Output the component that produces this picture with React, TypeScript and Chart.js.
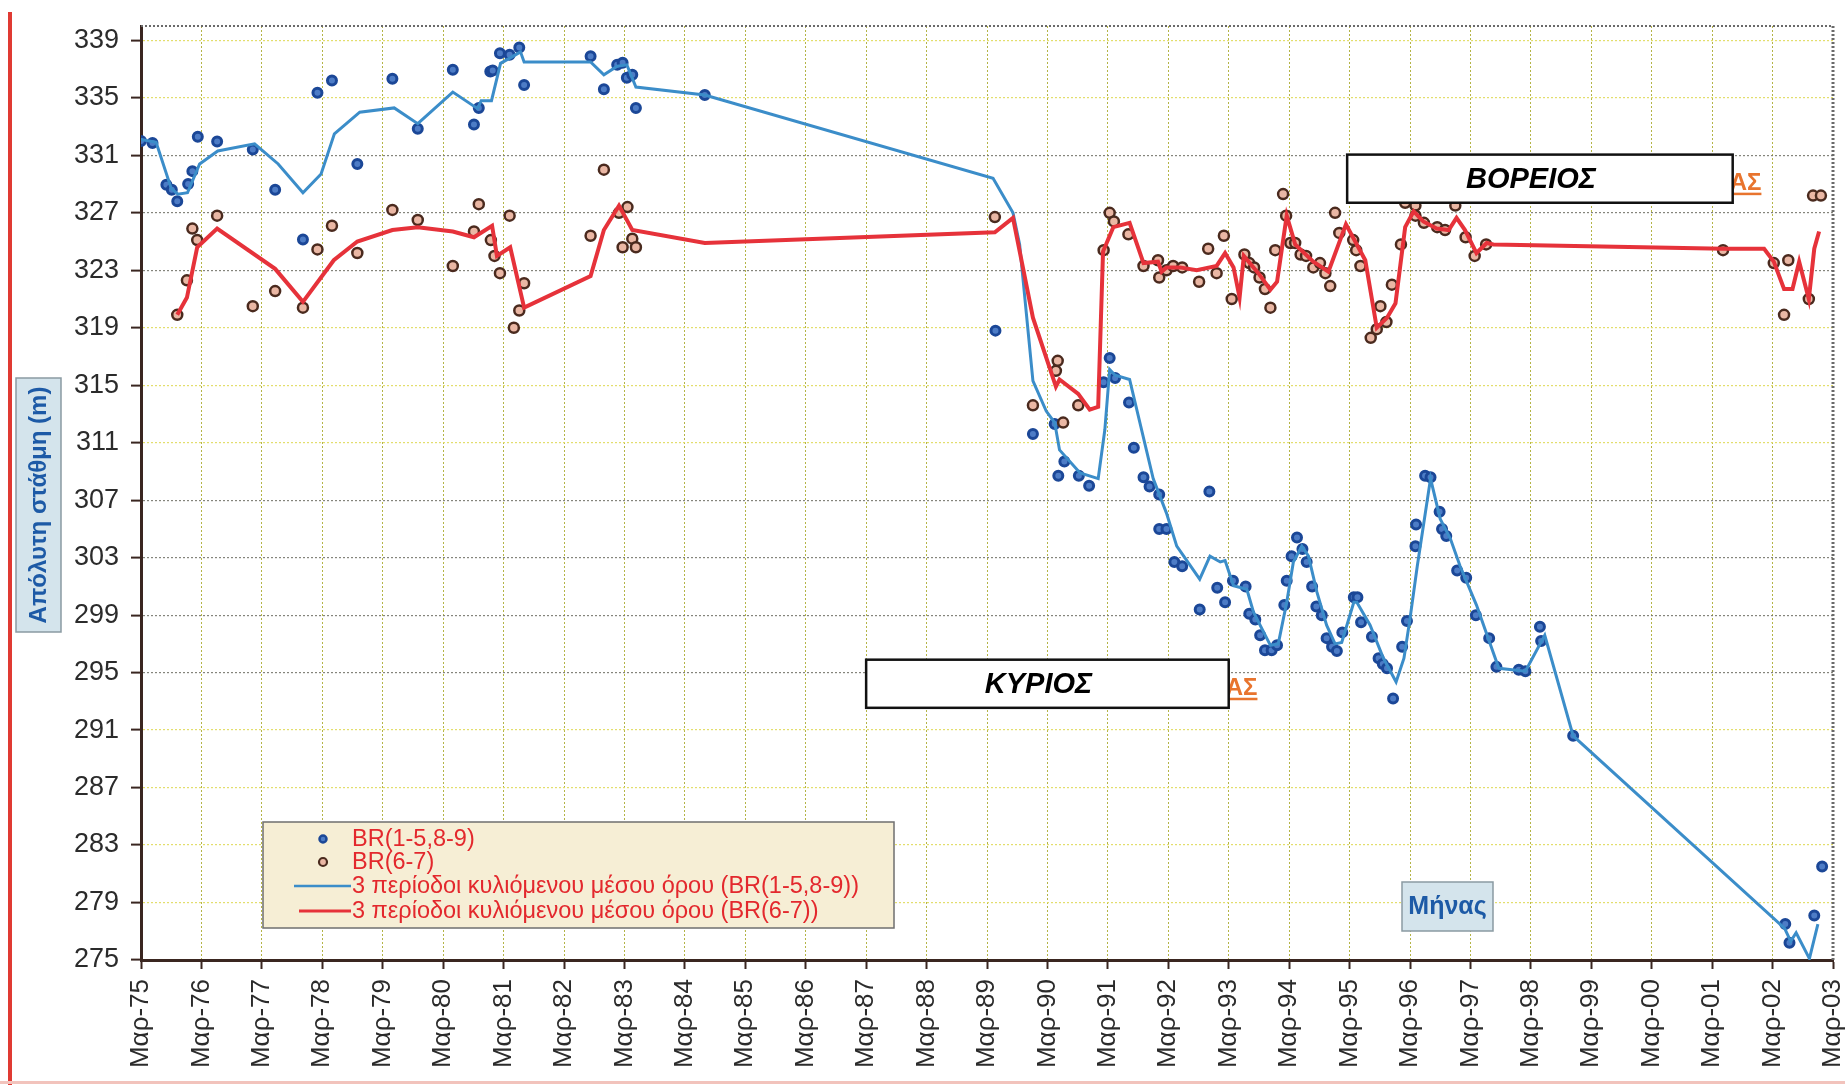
import React, { useEffect, useRef } from "react";
import { Chart, registerables } from "chart.js";

Chart.register(...registerables);

// x values are years counted from March: 75 = Μαρ-75 ... 103 = Μαρ-03
const monthName = "Μαρ";
const yearFirst = 75;
const yearLast = 103;
const levelMin = 275;
const levelMax = 340;
const levelStep = 4;
const levelTicks = [275, 279, 283, 287, 291, 295, 299, 303, 307, 311, 315, 319, 323, 327, 331, 335, 339];

// BR(1-5,8-9) measured levels
const mainWellsYear = [
  75.0, 75.19, 75.42, 75.51, 75.6, 75.78, 75.85, 75.94, 76.26, 76.85, 77.22, 77.68, 77.92, 78.16, 78.58,
  79.16, 79.58, 80.16, 80.51, 80.59, 80.78, 80.82, 80.94, 81.1, 81.26, 81.34, 82.44, 82.66, 82.88, 82.97,
  83.04, 83.13, 83.19, 84.33, 89.14, 89.76, 90.12, 90.18, 90.28, 90.52, 90.69, 90.93, 91.03, 91.12, 91.35,
  91.43, 91.59, 91.69, 91.85, 91.85, 91.97, 92.1, 92.23, 92.52, 92.68, 92.81, 92.94, 93.07, 93.28, 93.34,
  93.44, 93.52, 93.6, 93.71, 93.8, 93.92, 93.96, 94.04, 94.13, 94.22, 94.29, 94.38, 94.45, 94.54, 94.62,
  94.71, 94.79, 94.88, 95.07, 95.13, 95.19, 95.37, 95.48, 95.55, 95.62, 95.72, 95.87, 95.95, 96.09, 96.1,
  96.25, 96.34, 96.49, 96.53, 96.6, 96.78, 96.93, 97.09, 97.31, 97.43, 97.8, 97.91, 98.15, 98.17, 98.7,
  102.21, 102.28, 102.69, 102.82,
];
const mainWellsLevel = [
  332.0, 331.85, 328.95, 328.6, 327.8, 329.0, 329.9, 332.3, 331.97, 331.4, 328.6, 325.15, 335.36, 336.2, 330.4,
  336.33, 332.85, 336.96, 333.15, 334.3, 336.84, 336.9, 338.1, 338.0, 338.5, 335.9, 337.9, 335.6, 337.3, 337.45,
  336.4, 336.6, 334.3, 335.2, 318.8, 311.6, 312.3, 308.7, 309.7, 308.7, 308.0, 315.2, 316.9, 315.5, 313.8,
  310.65, 308.6, 307.95, 307.4, 305.0, 305.0, 302.7, 302.4, 299.4, 307.6, 300.9, 299.9, 301.4, 301.0, 299.1,
  298.7, 297.6, 296.55, 296.55, 296.9, 299.7, 301.4, 303.1, 304.4, 303.6, 302.7, 301.0, 299.6, 299.0, 297.4,
  296.8, 296.5, 297.8, 300.25, 300.25, 298.5, 297.5, 296.0, 295.6, 295.3, 293.2, 296.8, 298.6, 303.8, 305.3,
  308.7, 308.6, 306.2, 305.0, 304.5, 302.1, 301.6, 299.0, 297.4, 295.4, 295.2, 295.1, 298.2, 297.2, 290.6,
  277.5, 276.2, 278.1, 281.5,
];

// 3-period rolling mean of BR(1-5,8-9)
const mainAvgYear = [
  75.0, 75.25, 75.5, 75.61, 75.77, 75.97, 76.27, 76.88, 77.27, 77.68, 77.98, 78.2, 78.62, 79.19, 79.58,
  80.16, 80.57, 80.63, 80.8, 80.95, 81.16, 81.28, 81.34, 82.44, 82.66, 82.88, 83.04, 83.19, 84.33, 89.1,
  89.43, 89.54, 89.76, 89.98, 90.12, 90.2, 90.54, 90.84, 90.95, 91.03, 91.12, 91.36, 91.75, 91.97, 92.14,
  92.52, 92.69, 92.86, 92.94, 93.08, 93.3, 93.41, 93.69, 93.82, 93.96, 94.07, 94.21, 94.32, 94.46, 94.62,
  94.76, 94.87, 95.07, 95.12, 95.34, 95.56, 95.77, 95.9, 96.0, 96.12, 96.34, 96.5, 96.67, 96.83, 97.1,
  97.31, 97.47, 97.91, 98.23, 98.7, 102.2, 102.3, 102.39, 102.61, 102.75,
];
const mainAvgLevel = [
  332.1, 331.9, 328.7, 328.3, 328.4, 330.4, 331.3, 331.8, 330.4, 328.4, 329.7, 332.5, 334.0, 334.3, 333.2,
  335.4, 334.25, 334.8, 334.8, 337.4, 337.9, 338.2, 337.5, 337.5, 336.6, 337.2, 337.3, 335.75, 335.2, 329.4,
  327.0, 324.8, 315.3, 313.2, 312.4, 310.5, 308.9, 308.5, 311.9, 316.1, 315.7, 315.4, 308.5, 306.1, 303.8,
  301.5, 303.1, 302.7, 302.8, 301.05, 300.8, 299.2, 296.9, 297.0, 299.9, 302.7, 303.8, 303.1, 300.6, 298.3,
  297.0, 297.1, 299.9, 299.9, 298.3, 296.0, 294.35, 296.0, 298.75, 302.4, 308.5, 305.7, 304.3, 302.4, 299.7,
  297.2, 295.3, 295.1, 297.6, 290.6, 277.2, 276.3, 276.9, 275.1, 277.5,
];

// BR(6-7) measured levels
const northWellsYear = [
  75.6, 75.76, 75.85, 75.93, 76.26, 76.85, 77.22, 77.68, 77.92, 78.16, 78.58, 79.16, 79.58, 80.16, 80.51,
  80.59, 80.79, 80.85, 80.94, 81.1, 81.17, 81.26, 81.34, 82.44, 82.66, 82.91, 83.05, 82.97, 83.13, 83.19,
  89.13, 89.76, 90.14, 90.17, 90.26, 90.51, 90.93, 91.03, 91.1, 91.34, 91.59, 91.83, 91.85, 91.97, 92.08,
  92.23, 92.51, 92.66, 92.8, 92.92, 93.05, 93.26, 93.34, 93.42, 93.51, 93.6, 93.69, 93.77, 93.9, 93.95,
  94.02, 94.1, 94.19, 94.28, 94.4, 94.51, 94.6, 94.68, 94.76, 94.83, 95.06, 95.11, 95.18, 95.35, 95.45,
  95.51, 95.61, 95.7, 95.85, 95.92, 96.09, 96.09, 96.23, 96.45, 96.58, 96.75, 96.92, 97.07, 97.26, 101.18,
  102.02, 102.19, 102.26, 102.6, 102.67, 102.8,
];
const northWellsLevel = [
  319.9, 322.3, 325.9, 325.1, 326.8, 320.5, 321.55, 320.4, 324.45, 326.1, 324.2, 327.2, 326.5, 323.3, 325.7,
  327.6, 325.1, 324.0, 322.8, 326.8, 319.0, 320.2, 322.1, 325.4, 330.0, 327.0, 327.4, 324.6, 325.2, 324.6,
  326.7, 313.6, 316.0, 316.7, 312.4, 313.6, 324.4, 327.0, 326.4, 325.5, 323.3, 323.7, 322.5, 323.0, 323.3,
  323.2, 322.2, 324.5, 322.8, 325.4, 321.0, 324.1, 323.5, 323.2, 322.5, 321.7, 320.4, 324.4, 328.3, 326.8,
  324.9, 324.9, 324.1, 324.0, 323.2, 323.5, 322.8, 321.9, 327.0, 325.6, 325.1, 324.4, 323.3, 318.3, 318.9,
  320.5, 319.4, 322.0, 324.8, 327.7, 327.5, 326.8, 326.3, 326.0, 325.8, 327.5, 325.3, 324.0, 324.8, 324.4,
  323.5, 319.9, 323.7, 321.0, 328.2, 328.2,
];

// 3-period rolling mean of BR(6-7)
const northAvgYear = [
  75.6, 75.76, 75.93, 76.26, 77.22, 77.68, 78.19, 78.58, 79.16, 79.58, 80.16, 80.51, 80.81, 80.89, 81.11,
  81.34, 82.44, 82.66, 82.91, 83.13, 84.33, 89.13, 89.43, 89.76, 90.14, 90.2, 90.51, 90.7, 90.84, 90.92,
  91.09, 91.36, 91.59, 91.83, 91.89, 91.97, 92.19, 92.47, 92.8, 92.94, 93.08, 93.18, 93.25, 93.49, 93.69,
  93.8, 93.96, 94.1, 94.4, 94.65, 94.94, 95.26, 95.45, 95.62, 95.76, 95.92, 96.06, 96.22, 96.44, 96.64,
  96.77, 96.91, 97.1, 97.27, 97.38, 101.19, 101.86, 102.02, 102.19, 102.33, 102.44, 102.6, 102.69, 102.77,
];
const northAvgLevel = [
  319.9, 321.1, 324.6, 325.9, 323.1, 320.8, 323.7, 325.0, 325.8, 326.0, 325.7, 325.3, 326.1, 324.0, 324.6,
  320.4, 322.6, 325.8, 327.5, 325.8, 324.9, 325.65, 326.65, 319.7, 314.9, 315.4, 314.4, 313.3, 313.5, 324.3,
  326.0, 326.3, 323.5, 323.6, 322.9, 323.2, 323.2, 323.0, 323.3, 324.2, 323.2, 321.1, 324.0, 322.8, 321.65,
  322.2, 326.8, 324.8, 323.6, 322.9, 326.2, 323.7, 319.0, 319.7, 320.7, 326.0, 327.1, 326.4, 325.9, 325.8,
  326.65, 325.8, 324.2, 324.9, 324.8, 324.5, 324.5, 323.6, 321.7, 321.7, 323.6, 321.0, 324.5, 325.7,
];

const seriesLabels = [
  "BR(1-5,8-9)",
  "BR(6-7)",
  "3 περίοδοι κυλιόμενου μέσου όρου (BR(1-5,8-9))",
  "3 περίοδοι κυλιόμενου μέσου όρου (BR(6-7))",
];
const yAxisTitle = "Απόλυτη στάθμη (m)";
const xAxisTitle = "Μήνας";
const regionMain = "ΚΥΡΙΟΣ";
const regionNorth = "ΒΟΡΕΙΟΣ";
const regionSuffix = "ΑΣ";

const FONT = "'Liberation Sans', Arial, Helvetica, sans-serif";
const BLUE_DOT = "#1b4797";
const BLUE_DOT_FILL = "#4d7cc6";
const BROWN_RING = "#4a2a1e";
const BROWN_FILL = "#eab7a4";
const BLUE_LINE = "#3b8dc9";
const RED_LINE = "#e6323a";
const AXIS = "#3a2620";
const LEGEND_TEXT = "#e3282d";
const ORANGE = "#e8742e";

const toPoints = (xs: number[], ys: number[]) => xs.map((x, i) => ({ x, y: ys[i] }));

const yearLabel = (v: number) => `${monthName}-${String(v % 100).padStart(2, "0")}`;

const darkGridLevels = [331, 327, 323, 307, 303, 299, 295];

function drawRing(ctx: CanvasRenderingContext2D, x: number, y: number, r: number, stroke: string, fill: string, w: number) {
  ctx.beginPath();
  ctx.arc(x, y, r, 0, Math.PI * 2);
  ctx.fillStyle = fill;
  ctx.fill();
  ctx.lineWidth = w;
  ctx.strokeStyle = stroke;
  ctx.stroke();
}

const decorations = {
  id: "decorations",
  afterDatasetsDraw(chart: any) {
    const { ctx, chartArea: a, scales } = chart;
    const xs = scales.x;
    const ys = scales.y;
    ctx.save();

    // dotted top and right frame of the plot area
    ctx.setLineDash([2, 2]);
    ctx.strokeStyle = "#6a6a6a";
    ctx.lineWidth = 2;
    ctx.beginPath();
    ctx.moveTo(a.left, a.top);
    ctx.lineTo(a.right, a.top);
    ctx.stroke();
    ctx.lineWidth = 3;
    ctx.beginPath();
    ctx.moveTo(a.right, a.top);
    ctx.lineTo(a.right, a.bottom);
    ctx.stroke();
    ctx.setLineDash([]);

    // region boxes with the partly hidden orange caption behind them
    const regions = [
      { text: regionMain, from: 87.0, to: 93.0, top: 295.9, bottom: 292.55 },
      { text: regionNorth, from: 94.96, to: 101.34, top: 331.05, bottom: 327.7 },
    ];
    for (const r of regions) {
      const x0 = xs.getPixelForValue(r.from);
      const x1 = xs.getPixelForValue(r.to);
      const y0 = ys.getPixelForValue(r.top);
      const y1 = ys.getPixelForValue(r.bottom);
      const mid = (y0 + y1) / 2;

      ctx.font = `bold 24px ${FONT}`;
      ctx.fillStyle = ORANGE;
      ctx.textAlign = "left";
      ctx.textBaseline = "alphabetic";
      const sx = x1 - 3;
      const sw = ctx.measureText(regionSuffix).width;
      ctx.fillText(regionSuffix, sx, mid + 11);
      ctx.fillRect(x1, mid + 14, sx + sw - x1, 2.5);

      ctx.fillStyle = "#ffffff";
      ctx.fillRect(x0, y0, x1 - x0, y1 - y0);
      ctx.lineWidth = 2.5;
      ctx.strokeStyle = "#111111";
      ctx.strokeRect(x0, y0, x1 - x0, y1 - y0);
      ctx.fillStyle = "#000000";
      ctx.font = `italic bold 29px ${FONT}`;
      ctx.textAlign = "center";
      ctx.textBaseline = "middle";
      ctx.fillText(r.text, (x0 + x1) / 2 - 9, mid + 1);
    }

    // legend
    const lx = 263, ly = 822, lw = 631, lh = 106;
    ctx.fillStyle = "#f6eed5";
    ctx.fillRect(lx, ly, lw, lh);
    ctx.lineWidth = 1.5;
    ctx.strokeStyle = "#6f6f6f";
    ctx.strokeRect(lx, ly, lw, lh);
    const rows = [839, 862, 886, 911];
    drawRing(ctx, 323, rows[0], 3.5, BLUE_DOT, BLUE_DOT_FILL, 2.5);
    drawRing(ctx, 323, rows[1], 4, BROWN_RING, BROWN_FILL, 2.2);
    ctx.lineWidth = 2.5;
    ctx.strokeStyle = BLUE_LINE;
    ctx.beginPath();
    ctx.moveTo(294, rows[2]);
    ctx.lineTo(351, rows[2]);
    ctx.stroke();
    ctx.lineWidth = 3;
    ctx.strokeStyle = RED_LINE;
    ctx.beginPath();
    ctx.moveTo(299, rows[3]);
    ctx.lineTo(351, rows[3]);
    ctx.stroke();
    ctx.font = `23.5px ${FONT}`;
    ctx.fillStyle = LEGEND_TEXT;
    ctx.textAlign = "left";
    ctx.textBaseline = "middle";
    seriesLabels.forEach((t, i) => ctx.fillText(t, 352, rows[i] + 1));

    // x-axis caption box
    ctx.fillStyle = "#d4e4ec";
    ctx.fillRect(1402, 882, 91, 49);
    ctx.lineWidth = 1.5;
    ctx.strokeStyle = "#8a9aa2";
    ctx.strokeRect(1402, 882, 91, 49);
    ctx.fillStyle = "#1d5aa6";
    ctx.font = `bold 25px ${FONT}`;
    ctx.textAlign = "center";
    ctx.fillText(xAxisTitle, 1447.5, 907);

    // y-axis caption box
    ctx.fillStyle = "#d4e4ec";
    ctx.fillRect(16, 378, 45, 254);
    ctx.strokeStyle = "#8a9aa2";
    ctx.strokeRect(16, 378, 45, 254);
    ctx.translate(39, 505);
    ctx.rotate(-Math.PI / 2);
    ctx.fillStyle = "#1d5aa6";
    ctx.font = `bold 24px ${FONT}`;
    ctx.fillText(yAxisTitle, 0, 0);
    ctx.restore();

    // red page rule on the left and faint rule at the bottom
    ctx.save();
    ctx.fillStyle = "#e03a33";
    ctx.fillRect(8, 12, 4, 1073);
    ctx.fillStyle = "#f2c3bc";
    ctx.fillRect(0, 1081, 1845, 3);
    ctx.restore();
  },
};

export default function App() {
  const canvasRef = useRef<HTMLCanvasElement | null>(null);

  useEffect(() => {
    const canvas = canvasRef.current;
    if (!canvas) return;
    const chart = new Chart(canvas, {
      type: "scatter",
      data: {
        datasets: [
          {
            label: seriesLabels[3],
            data: toPoints(northAvgYear, northAvgLevel),
            showLine: true,
            borderColor: RED_LINE,
            borderWidth: 4,
            pointRadius: 0,
            tension: 0,
            order: 0,
          },
          {
            label: seriesLabels[2],
            data: toPoints(mainAvgYear, mainAvgLevel),
            showLine: true,
            borderColor: BLUE_LINE,
            borderWidth: 3,
            pointRadius: 0,
            tension: 0,
            order: 1,
          },
          {
            label: seriesLabels[1],
            data: toPoints(northWellsYear, northWellsLevel),
            showLine: false,
            pointRadius: 5,
            pointBorderWidth: 2.5,
            pointBorderColor: BROWN_RING,
            pointBackgroundColor: BROWN_FILL,
            order: 2,
          },
          {
            label: seriesLabels[0],
            data: toPoints(mainWellsYear, mainWellsLevel),
            showLine: false,
            pointRadius: 4.5,
            pointBorderWidth: 3,
            pointBorderColor: BLUE_DOT,
            pointBackgroundColor: BLUE_DOT_FILL,
            order: 3,
          },
        ],
      },
      options: {
        responsive: false,
        animation: false,
        devicePixelRatio: 1,
        layout: { padding: { top: 26, right: 12, left: 0, bottom: 0 } },
        plugins: {
          legend: { display: false },
          tooltip: { enabled: false },
        },
        scales: {
          x: {
            type: "linear",
            min: yearFirst,
            max: yearLast,
            afterFit: (s: any) => {
              s.height = 125;
              s.paddingLeft = 0;
              s.paddingRight = 0;
            },
            afterBuildTicks: (s: any) => {
              s.ticks = s.ticks.filter((t: any) => Number.isInteger(t.value));
            },
            ticks: {
              stepSize: 1,
              autoSkip: false,
              maxRotation: 90,
              minRotation: 90,
              padding: 10,
              color: "#2b2b2b",
              font: { family: FONT, size: 26 },
              callback: (v: any) => yearLabel(Number(v)),
            },
            grid: {
              color: "rgba(176,176,60,0.95)",
              lineWidth: 1,
              tickLength: 9,
              tickColor: AXIS,
              tickWidth: 2,
              tickBorderDash: [],
            },
            border: { display: true, color: AXIS, width: 3, dash: [2, 2] },
          },
          y: {
            type: "linear",
            min: levelMin,
            max: levelMax,
            afterFit: (s: any) => {
              s.width = 141;
              s.paddingTop = 0;
              s.paddingBottom = 0;
            },
            afterBuildTicks: (s: any) => {
              s.ticks = levelTicks.map((value) => ({ value }));
            },
            ticks: {
              stepSize: levelStep,
              autoSkip: false,
              padding: 12,
              color: "#2b2b2b",
              font: { family: FONT, size: 27 },
              callback: (v: any) => String(v),
            },
            grid: {
              color: (c: any) =>
                c.tick && darkGridLevels.includes(c.tick.value) ? "rgba(120,120,110,0.9)" : "rgba(226,220,100,0.95)",
              lineWidth: 1.2,
              tickLength: 10,
              tickColor: AXIS,
              tickWidth: 2,
              tickBorderDash: [],
            },
            border: { display: true, color: AXIS, width: 3, dash: [2, 2] },
          },
        },
      },
      plugins: [decorations],
    } as any);
    return () => chart.destroy();
  }, []);

  return (
    <div style={{ position: "absolute", left: 0, top: 0, width: 1845, height: 1085, background: "#ffffff" }}>
      <canvas ref={canvasRef} width={1845} height={1085} style={{ display: "block" }} />
    </div>
  );
}
